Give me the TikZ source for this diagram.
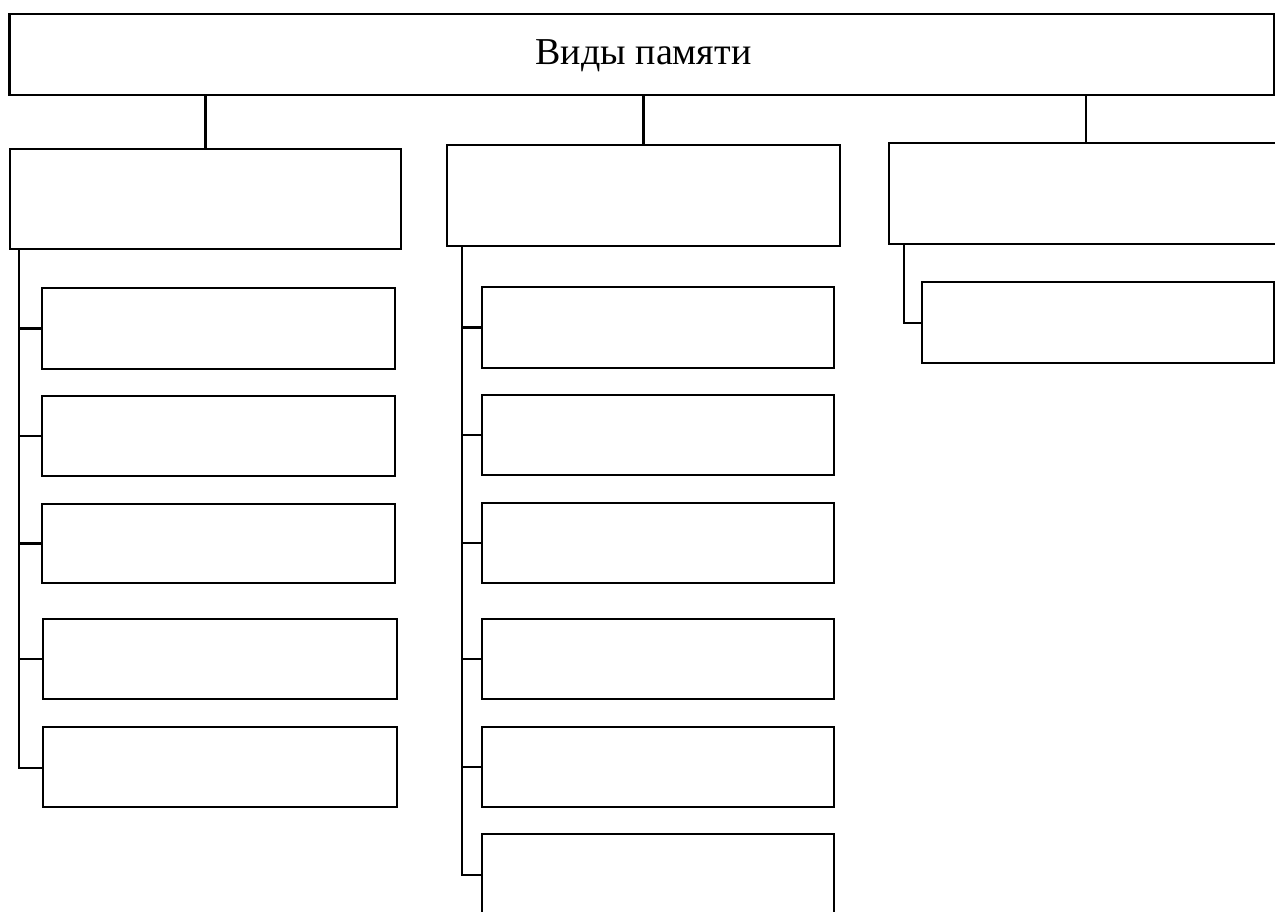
\documentclass[tikz,border=0pt]{standalone}
\usepackage{fontspec}
\setmainfont{Liberation Serif}
\begin{document}
\begin{tikzpicture}[x=1pt,y=-1pt,
  box/.style={draw=black,line width=2.4pt,inner sep=0pt,outer sep=0pt,anchor=north west,fill=none},
  conn/.style={draw=black,line width=2.4pt}]
\useasboundingbox (0,0) rectangle (1275,911);
\clip (0,0) rectangle (1275,911);
% top
\node[box,line width=2.8pt,minimum width=1265pt,minimum height=81pt] (top) at (9.5,14) {};
\node[anchor=base,inner sep=0pt,font=\fontsize{38}{45}\selectfont] (title) at (643.5,64) {Виды памяти};
% level 1
\node[box,minimum width=391pt,minimum height=100pt] (L) at (10,149) {};
\node[box,minimum width=393pt,minimum height=101pt] (M) at (447,145) {};
\node[box,minimum width=394pt,minimum height=101pt] (R) at (889,143) {};
% left children
\node[box,minimum width=353pt,minimum height=81pt] (L1) at (42,288) {};
\node[box,minimum width=353pt,minimum height=80pt] (L2) at (42,396) {};
\node[box,minimum width=353pt,minimum height=79pt] (L3) at (42,504) {};
\node[box,minimum width=354pt,minimum height=80pt] (L4) at (43,619) {};
\node[box,minimum width=354pt,minimum height=80pt] (L5) at (43,727) {};
% middle children
\node[box,minimum width=352pt,minimum height=81pt] (M1) at (482,287) {};
\node[box,minimum width=352pt,minimum height=80pt] (M2) at (482,395) {};
\node[box,minimum width=352pt,minimum height=80pt] (M3) at (482,503) {};
\node[box,minimum width=352pt,minimum height=80pt] (M4) at (482,619) {};
\node[box,minimum width=352pt,minimum height=80pt] (M5) at (482,727) {};
\node[box,minimum width=352pt,minimum height=110pt] (M6) at (482,834) {};
% right child
\node[box,minimum width=352pt,minimum height=81pt] (R1) at (922,282) {};
% connectors from top
\draw[conn] (L.north) -- (L.north |- top.south);
\draw[conn] (M.north) -- (M.north |- top.south);
\draw[conn] (R.north) -- (R.north |- top.south);
% trunks
\coordinate (Lt) at ([xshift=9pt]L.south west);
\coordinate (Mt) at ([xshift=15pt]M.south west);
\coordinate (Rt) at ([xshift=15pt]R.south west);
\draw[conn,line width=2.8pt] (Lt) |- ([yshift=-1pt]L5.west);
\foreach \c in {L1,L2,L3,L4}{\draw[conn] (\c.west) -- (\c.west -| Lt);}
\draw[conn,line width=2.8pt] (Mt) |- (M6.west |- 0,875);
\foreach \c in {M1,M2,M3,M4,M5}{\draw[conn] (\c.west) -- (\c.west -| Mt);}
\draw[conn] (Rt) |- ([yshift=-0.5pt]R1.west);
\end{tikzpicture}
\end{document}
